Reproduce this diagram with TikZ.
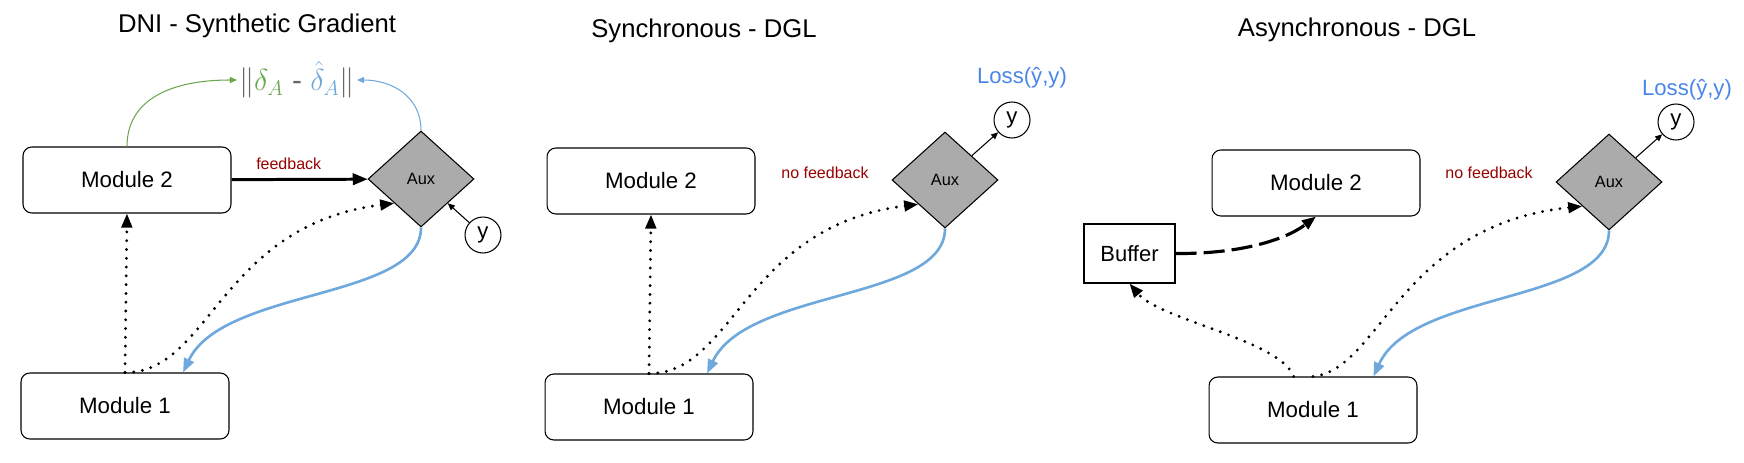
\documentclass[tikz,border=0pt]{standalone}
\usepackage{fontspec}
\setmainfont{Liberation Sans}
\usetikzlibrary{shapes.geometric,arrows.meta}
\definecolor{featblue}{HTML}{6FA8DC}
\definecolor{lossblue}{HTML}{4A86E8}
\definecolor{gradgreen}{HTML}{6AA84F}
\definecolor{notered}{HTML}{990000}
\definecolor{auxgray}{HTML}{ABABAB}
\definecolor{normgray}{HTML}{666666}

\begin{document}
\begin{tikzpicture}[x=0.02cm, y=-0.02cm]
    \tikzstyle{module} = [draw, rounded corners=5pt, line width=0.6pt, minimum width=4.16cm, minimum height=1.32cm, font=\fontsize{12.7}{15}\selectfont]
    \tikzstyle{aux} = [draw, diamond, fill=auxgray, line width=0.6pt, inner sep=0pt, minimum width=2.12cm, minimum height=1.92cm, font=\fontsize{9.3}{11}\selectfont]
    \tikzstyle{target} = [draw, circle, line width=0.6pt, inner sep=0pt, minimum size=0.72cm, font=\fontsize{12.6}{15}\selectfont]
    \tikzstyle{buffer} = [draw, line width=0.6pt, minimum width=1.82cm, minimum height=1.18cm, font=\fontsize{12.5}{15}\selectfont]
    \tikzstyle{title} = [anchor=base, font=\fontsize{14.6}{17}\selectfont]
    \tikzstyle{note} = [text=notered, font=\fontsize{9.1}{11}\selectfont]
    \tikzstyle{loss} = [text=lossblue, font=\fontsize{12.6}{15}\selectfont]
    \tikzstyle{feedback} = [line width=1.7pt, -{Triangle[length=8.5pt,width=6.5pt]}]
    \tikzstyle{forward} = [line width=1.8pt, dash pattern=on 0pt off 5pt, line cap=round, -{Triangle[length=8pt,width=6pt]}]
    \tikzstyle{backward} = [featblue, line width=1.5pt, -{Triangle[length=8pt,width=6pt]}]
    \tikzstyle{replay} = [line width=1.8pt, dash pattern=on 12pt off 4pt, -{Triangle[length=8pt,width=6pt]}]
    \tikzstyle{small arrow} = [line width=0.6pt, -{Triangle[length=4pt,width=3.5pt]}]
    \useasboundingbox (0,0) rectangle (1744,463);

    % DNI - synthetic gradient
    \node[title] (title1) at (257,32) {DNI - Synthetic Gradient};
    \node[module] (m2a) at (127,180) {Module 2};
    \node[module] (m1a) at (125,406) {Module 1};
    \node[aux] (auxa) at (421,179) {Aux};
    \node[target] (ya) at (483,235) {y};
    \node[inner sep=1pt, font=\fontsize{17}{19}\selectfont] (grada) at (297,80)
        {$\color{normgray}\|{\color{gradgreen}\delta_A}\mbox{ - }{\color{featblue}\hat\delta_A}\|$};
    \draw[feedback] (m2a) -- node[note, above=1.5pt, pos=0.42] {feedback} (auxa);
    \draw[forward] (m1a.north) -- (m2a.south);
    \draw[forward] (m1a.north) .. controls (210,373) and (220,225) .. (auxa.south west);
    \draw[backward] (auxa.south) .. controls (421,300) and (223,288) .. (m1a.30);
    \draw[small arrow] (ya) -- (auxa.south east);
    \draw[small arrow, gradgreen] (m2a.north) .. controls (127,100) and (170,80) .. (grada.west);
    \draw[small arrow, featblue] (auxa.north) .. controls (421,95) and (390,80) .. (grada.east);

    % synchronous DGL
    \begin{scope}[shift={(524,0)}]
        \node[title] (title2) at (180,37) {Synchronous - DGL};
        \node[module] (m2b) at (127,181) {Module 2};
        \node[module] (m1b) at (125,407) {Module 1};
        \node[aux] (auxb) at (421,180) {Aux};
        \node[target] (yb) at (488,120) {y};
        \node[loss] (lossb) at (498,78) {Loss(ŷ,y)};
        \node[note] (nofb) at (301,173) {no feedback};
        \draw[forward] (m1b.north) -- (m2b.south);
        \draw[forward] (m1b.north) .. controls (210,374) and (220,226) .. (auxb.south west);
        \draw[backward] (auxb.south) .. controls (421,301) and (223,289) .. (m1b.30);
        \draw[small arrow] (auxb.north east) -- (yb);
    \end{scope}

    % asynchronous DGL
    \node[title] (title3) at (1357,36) {Asynchronous - DGL};
    \node[module] (m2c) at (1316,183) {Module 2};
    \node[module] (m1c) at (1313,410) {Module 1};
    \node[aux] (auxc) at (1609,182) {Aux};
    \node[target] (yc) at (1676,122) {y};
    \node[loss] (lossc) at (1687,90) {Loss(ŷ,y)};
    \node[note] (nofc) at (1489,173) {no feedback};
    \node[buffer] (buf) at (1129.5,253.5) {Buffer};
    \draw[replay] (buf.east) .. controls (1240,254) and (1285,240) .. (m2c.south);
    \draw[forward] (m1c.120) .. controls (1280,340) and (1160,320) .. (buf.south);
    \draw[forward] (m1c.north) .. controls (1380,370) and (1400,225) .. (auxc.south west);
    \draw[backward] (auxc.south) .. controls (1609,303) and (1412,291) .. (m1c.29);
    \draw[small arrow] (auxc.north east) -- (yc);
\end{tikzpicture}
\end{document}
